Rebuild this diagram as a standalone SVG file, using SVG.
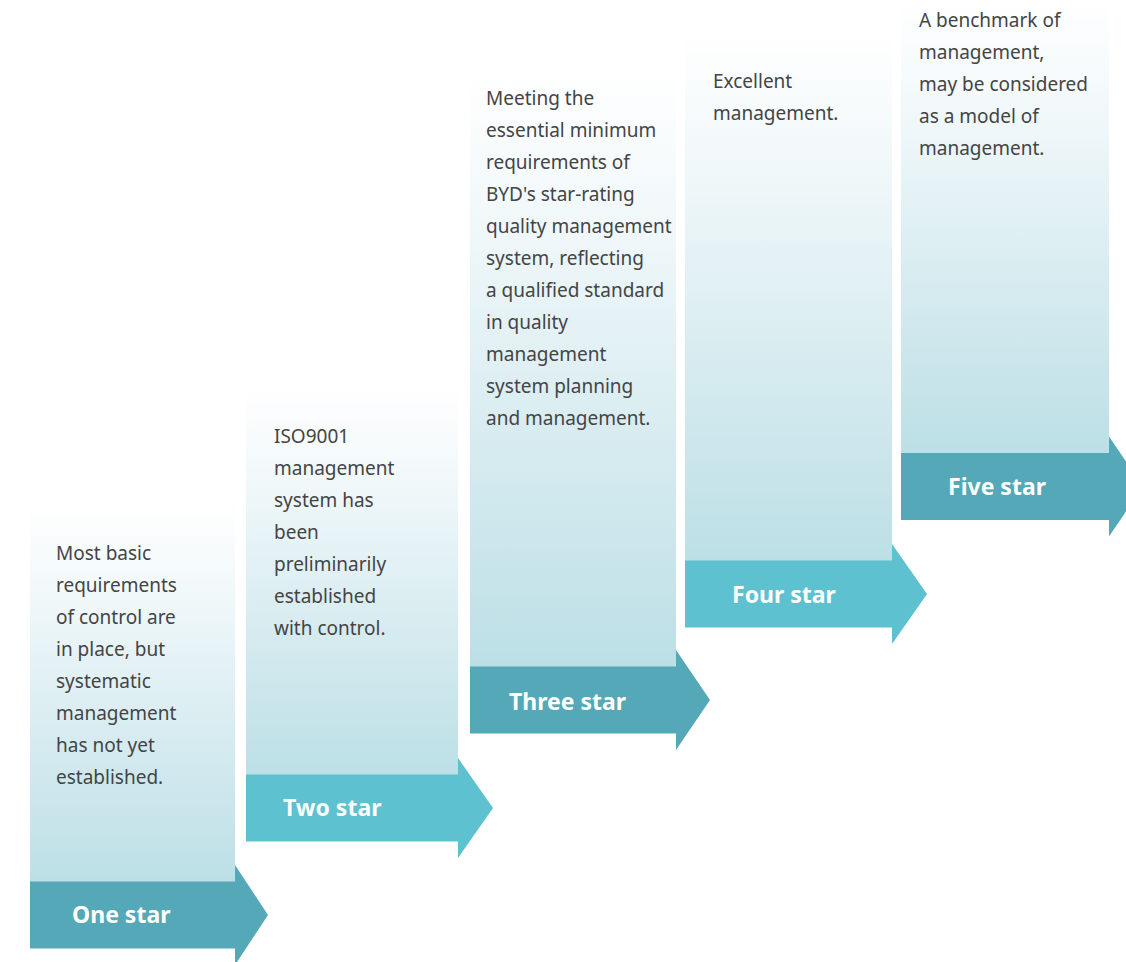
<svg xmlns="http://www.w3.org/2000/svg" width="1126" height="962" viewBox="0 0 1126 962">
  <defs>
    <!-- column fill: fades from white at the top to pale teal at the banner -->
    <linearGradient id="colFade" x1="0" y1="0" x2="0" y2="1">
      <stop offset="0" stop-color="#ffffff"/>
      <stop offset="0.25" stop-color="#f1f8fa"/>
      <stop offset="1" stop-color="#bcdfe6"/>
    </linearGradient>
    <style>
      .col { fill: url(#colFade); }
      .dark { fill: #55a8b7; }
      .light { fill: #5dc1d0; }
      .desc { font-family: "Noto Sans", "Open Sans", sans-serif; font-size: 19px; fill: #444444; }
      .label { font-family: "Noto Sans", "Open Sans", sans-serif; font-size: 23px; font-weight: bold; fill: #ffffff; }
    </style>
  </defs>

  <g id="connectors"></g>

  <!-- One star -->
  <g id="one-star">
    <rect class="col" x="30" y="500" width="205" height="382"/>
    <path class="dark" d="M30 881.5 H235 V865 L268 915 L235 965 V948.5 H30 Z"/>
    <text class="desc" x="56" y="560">
      <tspan x="56" y="560">Most basic</tspan>
      <tspan x="56" y="592">requirements</tspan>
      <tspan x="56" y="624">of control are</tspan>
      <tspan x="56" y="656">in place, but</tspan>
      <tspan x="56" y="688">systematic</tspan>
      <tspan x="56" y="720">management</tspan>
      <tspan x="56" y="752">has not yet</tspan>
      <tspan x="56" y="784">established.</tspan>
    </text>
    <text class="label" x="72" y="923">One star</text>
  </g>

  <!-- Two star -->
  <g id="two-star">
    <rect class="col" x="246" y="385" width="212" height="390"/>
    <path class="light" d="M246 774.5 H458 V758 L493 808 L458 858 V841.5 H246 Z"/>
    <text class="desc" x="274" y="443">
      <tspan x="274" y="443">ISO9001</tspan>
      <tspan x="274" y="475">management</tspan>
      <tspan x="274" y="507">system has</tspan>
      <tspan x="274" y="539">been</tspan>
      <tspan x="274" y="571">preliminarily</tspan>
      <tspan x="274" y="603">established</tspan>
      <tspan x="274" y="635">with control.</tspan>
    </text>
    <text class="label" x="283" y="816">Two star</text>
  </g>

  <!-- Three star -->
  <g id="three-star">
    <rect class="col" x="470" y="70" width="206" height="597"/>
    <path class="dark" d="M470 666.5 H676 V650 L710 700 L676 750 V733.5 H470 Z"/>
    <text class="desc" x="486" y="105">
      <tspan x="486" y="105">Meeting the</tspan>
      <tspan x="486" y="137">essential minimum</tspan>
      <tspan x="486" y="169">requirements of</tspan>
      <tspan x="486" y="201">BYD's star-rating</tspan>
      <tspan x="486" y="233">quality management</tspan>
      <tspan x="486" y="265">system, reflecting</tspan>
      <tspan x="486" y="297">a qualified standard</tspan>
      <tspan x="486" y="329">in quality</tspan>
      <tspan x="486" y="361">management</tspan>
      <tspan x="486" y="393">system planning</tspan>
      <tspan x="486" y="425">and management.</tspan>
    </text>
    <text class="label" x="509" y="710">Three star</text>
  </g>

  <!-- Four star -->
  <g id="four-star">
    <rect class="col" x="685" y="30" width="207" height="531"/>
    <path class="light" d="M685 560.5 H892 V544 L927 594 L892 644 V627.5 H685 Z"/>
    <text class="desc" x="713" y="88">
      <tspan x="713" y="88">Excellent</tspan>
      <tspan x="713" y="120">management.</tspan>
    </text>
    <text class="label" x="732" y="603">Four star</text>
  </g>

  <!-- Five star -->
  <g id="five-star">
    <rect class="col" x="901" y="0" width="208" height="454"/>
    <path class="dark" d="M901 453 H1109 V436.5 L1143 486.5 L1109 536.5 V520 H901 Z"/>
    <text class="desc" x="919" y="27">
      <tspan x="919" y="27">A benchmark of</tspan>
      <tspan x="919" y="59">management,</tspan>
      <tspan x="919" y="91">may be considered</tspan>
      <tspan x="919" y="123">as a model of</tspan>
      <tspan x="919" y="155">management.</tspan>
    </text>
    <text class="label" x="948" y="495">Five star</text>
  </g>
</svg>
